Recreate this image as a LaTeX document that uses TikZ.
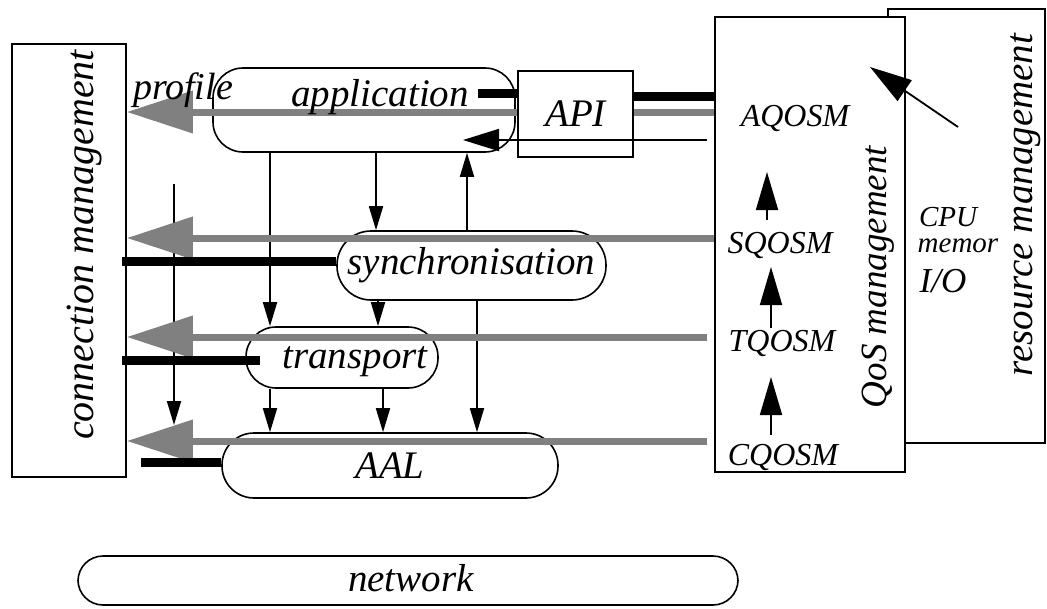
\documentclass[tikz,border=0pt]{standalone}
\usepackage{fontspec}
\setmainfont{Liberation Serif}
\usetikzlibrary{arrows.meta}

\tikzset{
  box/.style={draw, line width=1.6pt, fill=white, inner sep=0pt},
  pill/.style={box, rounded corners=#1},
  lbl/.style={font=\fontsize{#1}{#1}\selectfont\itshape, inner sep=0pt},
  lbl/.default=39,
  gflow/.style={draw=gray, line width=7pt, -{Triangle[length=66pt,width=41pt]}},
  bar/.style={line width=9pt},
  flow/.style={line width=1.8pt, -{Triangle[length=24pt,width=14pt]}},
  bigflow/.style={line width=1.8pt, -{Triangle[length=38pt,width=22pt]}},
}

\begin{document}
\begin{tikzpicture}[x=1pt, y=-1pt]
    \useasboundingbox (0,0) rectangle (1047,608);
    % free ends and columns
    \coordinate (cA) at (270,0); \coordinate (cB) at (376,0); \coordinate (cC) at (467,0);
    \coordinate (cD) at (378,0); \coordinate (cF) at (383,0); \coordinate (cE) at (477,0);
    \coordinate (g1) at (0,112); \coordinate (g2) at (0,238);
    \coordinate (g3) at (0,337); \coordinate (g4) at (0,441);
    \coordinate (b1) at (122,261); \coordinate (b2) at (122,360); \coordinate (b3) at (141,462);
    \coordinate (t1) at (478,93); \coordinate (t2) at (0,96); \coordinate (r1) at (463,140);
    \coordinate (l1s) at (174,184); \coordinate (l1e) at (174,425);
    \coordinate (d1) at (958,127); \coordinate (d2) at (870,67);

    % resource and QoS management
    \node[box, minimum width=157pt, minimum height=434pt] (res) at (966.5,226) {};
    \node[lbl, rotate=90] (restext) at (1026,205) {resource management};
    \node[box, minimum width=190pt, minimum height=455pt] (qos) at (810,244.5) {};
    \node[lbl=37, rotate=90] (qostext) at (878,277) {QoS management};
    \node[lbl=32] (aq) at (795,118) {AQOSM};
    \node[lbl=32] (sq) at (780,245) {SQOSM};
    \node[lbl=32] (tq) at (782,343) {TQOSM};
    \node[lbl=32] (cq) at (783,457) {CQOSM};
    \coordinate (q1s) at (767,220); \coordinate (q1e) at (767,172);
    \coordinate (q2s) at (771,328); \coordinate (q2e) at (771,267);
    \coordinate (q3s) at (771,435); \coordinate (q3e) at (771,377);
    \foreach \a/\b in {q1s/q1e, q2s/q2e, q3s/q3e} \draw[bigflow] (\a) -- (\b);
    \node[lbl=29] (cpu) at (948,217) {CPU};
    \node[lbl=29] (mem) at (958,246) {memor};
    \node[lbl=35] (io) at (943,281) {I/O};
    \draw[line width=1.8pt, -{Triangle[length=42pt,width=25pt]}] (d1) -- (d2);

    % connection management
    \node[box, minimum width=114pt, minimum height=433pt] (conn) at (69,260.5) {};
    \node[lbl=40, rotate=90] (conntext) at (85,245) {connection management};

    % application and API
    \node[pill=30pt, minimum width=302pt, minimum height=84pt] (app) at (364,110) {};
    \draw[gflow] (qos.west |- g1) -- (conn.east |- g1);
    \node[box, minimum width=115pt, minimum height=86pt, lbl] (api) at (575.5,114) {API};
    \node[lbl] (apptext) at (380,97) {application};
    \node[lbl=38] (profile) at (183,90) {profile};
    \draw[line width=1.8pt, -{Triangle[length=36pt,width=22pt]}, shorten <=7pt] (qos.west |- r1) -- (r1);

    % layers
    \node[pill=34pt, lbl, minimum width=269pt, minimum height=69pt] (sync) at (471.5,265.5) {synchronisation};
    \node[pill=30pt, minimum width=192pt, minimum height=61pt] (trans) at (342,357.5) {};
    \node[lbl] (transtext) at (355,362) {transport};
    \node[pill=32pt, lbl, minimum width=336pt, minimum height=65pt] (aal) at (390,465.5) {AAL};
    \node[pill=25pt, minimum width=660pt, minimum height=49pt] (net) at (408,580.5) {};
    \node[lbl] (nettext) at (411,578) {network};

    % data flow between layers
    \draw[flow] (app.south -| cA) -- (trans.north -| cA);
    \draw[flow] (app.south -| cB) -- (sync.north -| cB);
    \draw[flow] (sync.north -| cC) -- (app.south -| cC);
    \draw[flow] (sync.south -| cD) -- (trans.north -| cD);
    \draw[flow] (trans.south -| cA) -- (aal.north -| cA);
    \draw[flow] (trans.south -| cF) -- (aal.north -| cF);
    \draw[flow] (sync.south -| cE) -- (aal.north -| cE);
    \draw[flow] (l1s) -- (l1e);

    % QoS requests to connection management
    \draw[gflow] (qos.west |- g2) -- (conn.east |- g2);
    \draw[gflow, shorten <=7pt] (qos.west |- g3) -- (conn.east |- g3);
    \draw[gflow, shorten <=7pt] (qos.west |- g4) -- (conn.east |- g4);

    % control bars
    \draw[bar] (b1) -- (sync.west |- b1);
    \draw[bar, shorten >=-15pt] (b2) -- (trans.west |- b2);
    \draw[bar] (b3) -- (aal.west |- b3);
    \draw[bar] (t1) -- (api.west |- t1);
    \draw[bar] (api.east |- t2) -- (qos.west |- t2);
\end{tikzpicture}
\end{document}
